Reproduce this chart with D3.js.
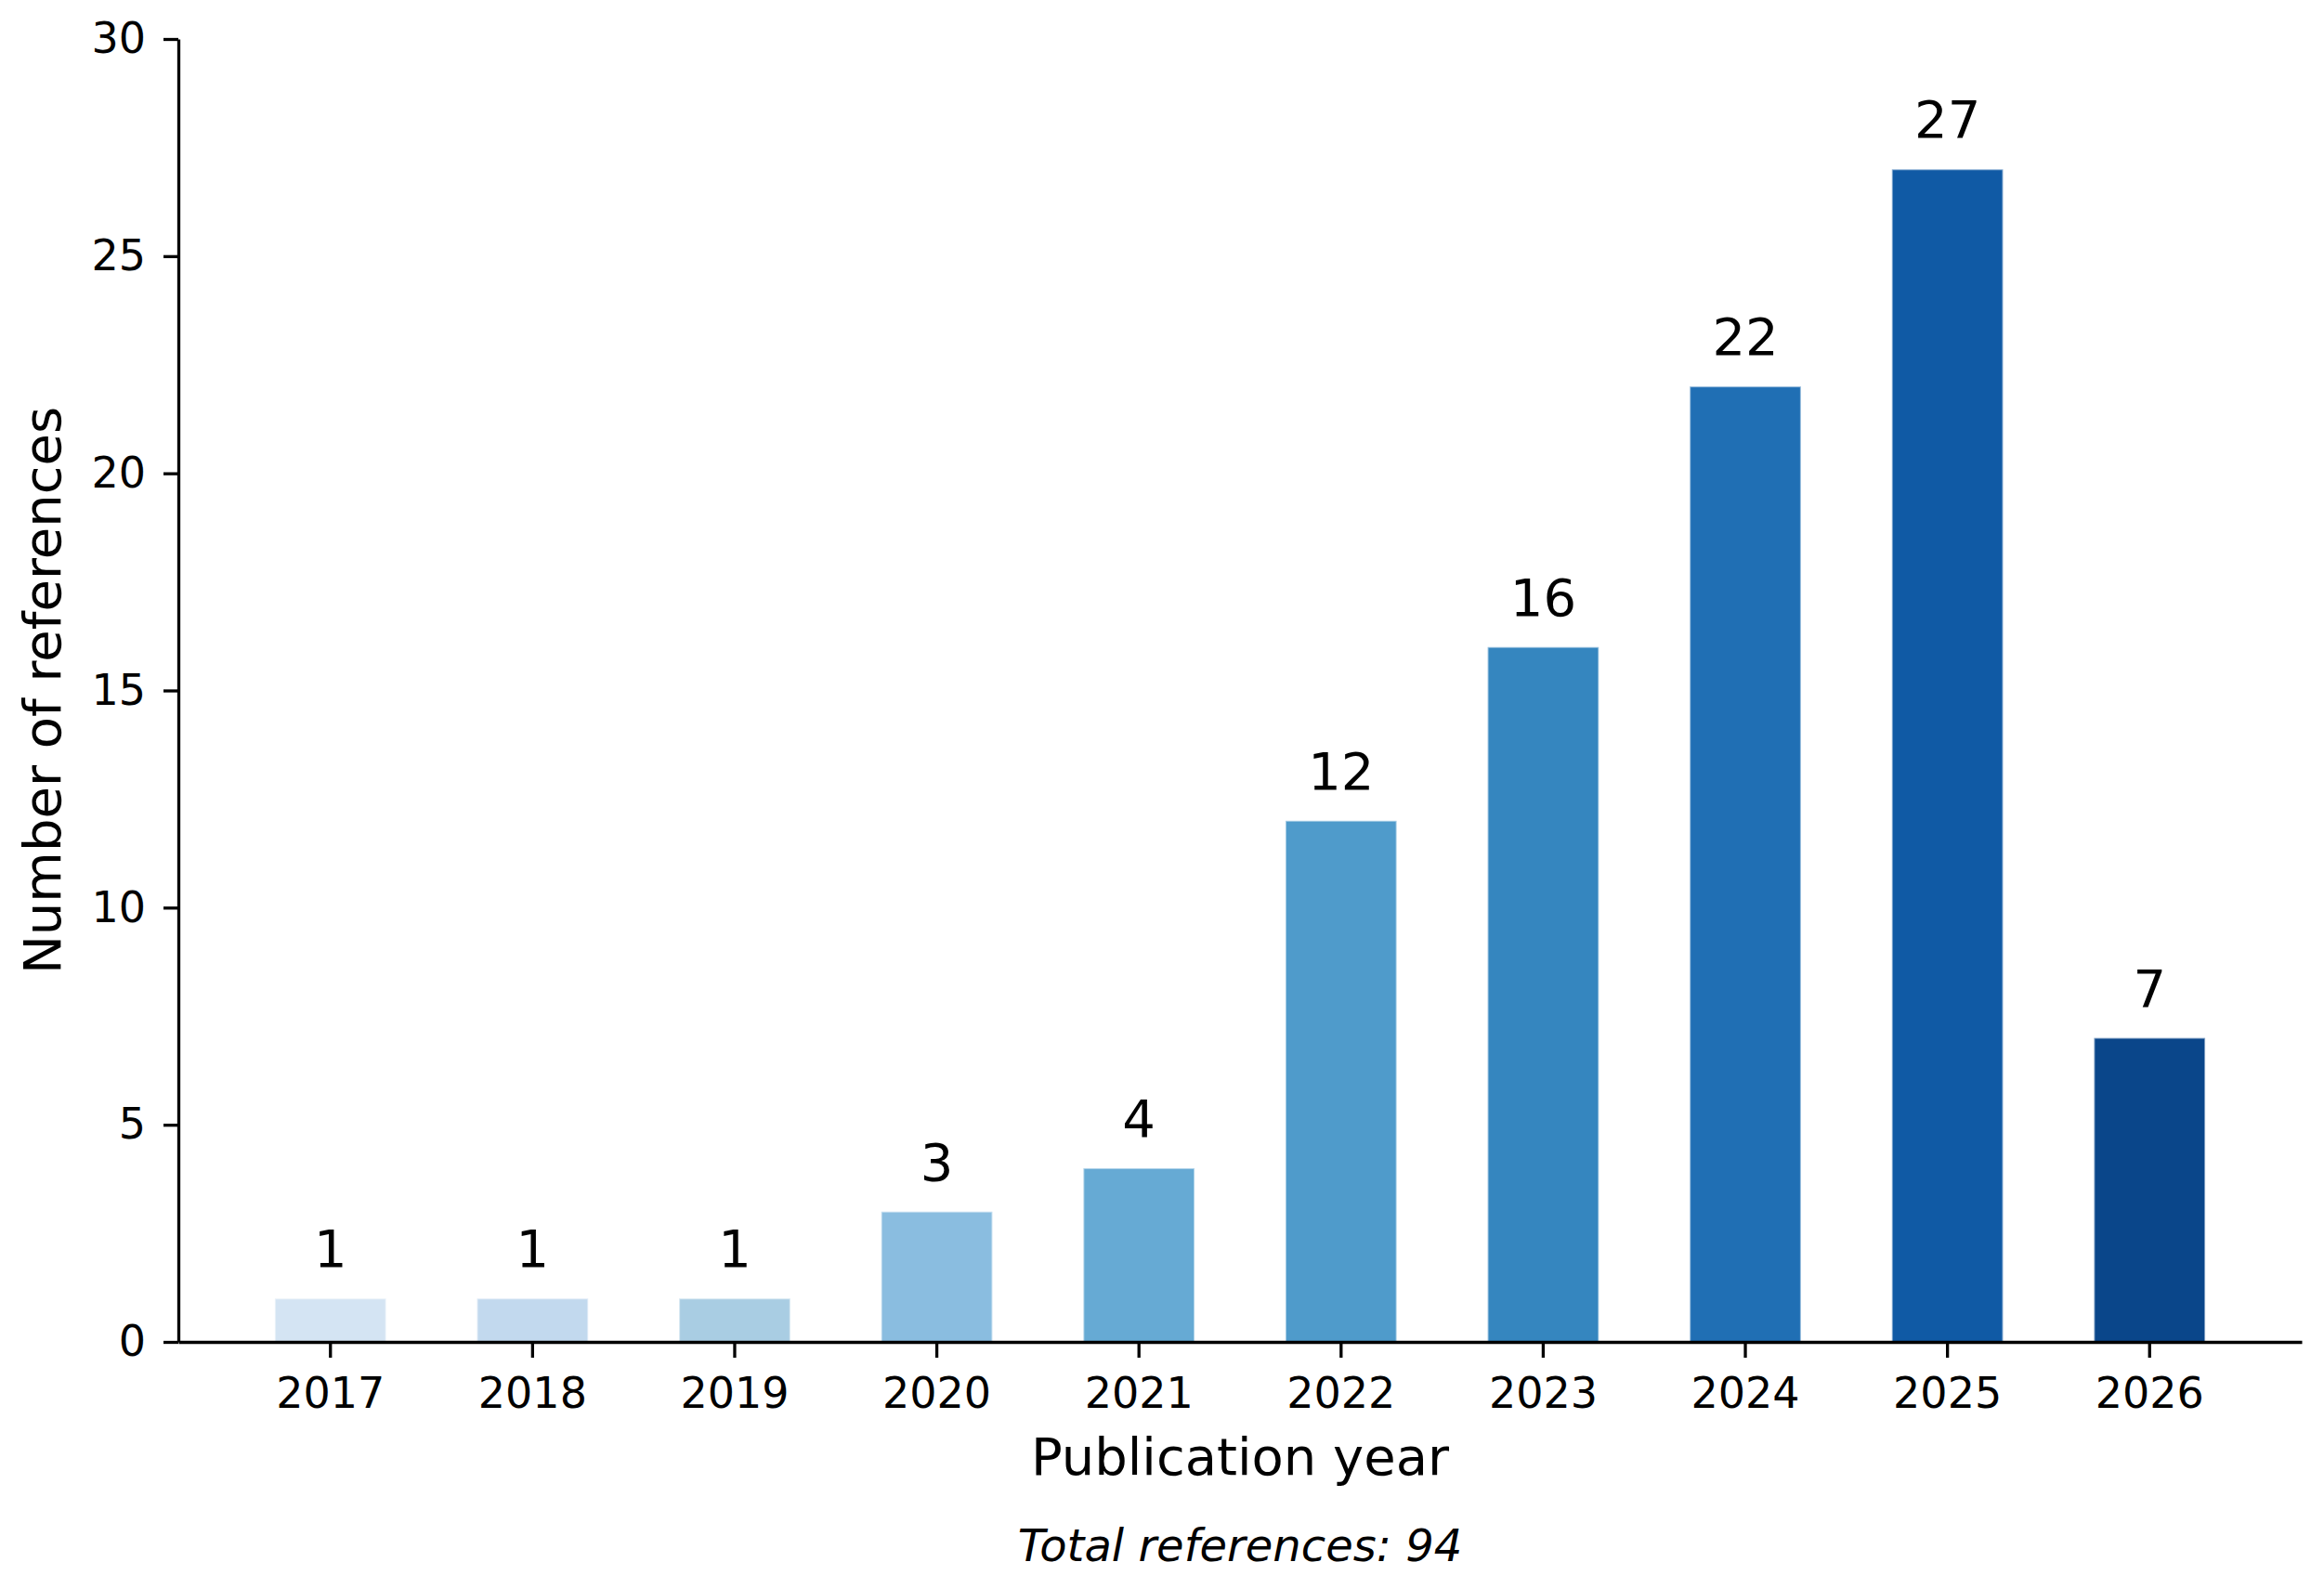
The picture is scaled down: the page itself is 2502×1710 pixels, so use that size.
<!DOCTYPE html>
<html>
<head>
<meta charset="utf-8">
<script src="https://cdn.jsdelivr.net/npm/d3@7"></script>
<style>
  html, body { margin: 0; padding: 0; background: #fff; }
  svg { display: block; font-family: "DejaVu Sans", sans-serif; }
</style>
</head>
<body>
<div id="chart"></div>
<script>
// data
const years = ["2017", "2018", "2019", "2020", "2021", "2022", "2023", "2024", "2025", "2026"];
const counts = [1, 1, 1, 3, 4, 12, 16, 22, 27, 7];
const barColors = ["#d4e4f3", "#c2d9ee", "#a9cde3", "#8abde0", "#66aad4",
    "#4f9bcb", "#3586bf", "#206fb4", "#105aa5", "#0a468a"];
const yTicks = [0, 5, 10, 15, 20, 25, 30];

const width = 2502, height = 1710;
const plot = { left: 192, right: 2478, top: 42, bottom: 1445 };

const svg = d3.select("#chart")
    .append("svg")
    .attr("width", width)
    .attr("height", height);

const x = d3.scaleBand()
    .domain(years)
    .range([plot.left, plot.right])
    .paddingInner(0.45)
    .paddingOuter(0.4775);

const y = d3.scaleLinear()
    .domain([0, 30])
    .range([plot.bottom, plot.top]);

// bars
svg.append("g")
    .selectAll("rect")
    .data(years)
    .join("rect")
    .attr("x", d => x(d))
    .attr("width", x.bandwidth())
    .attr("y", (d, i) => y(counts[i]))
    .attr("height", (d, i) => y(0) - y(counts[i]))
    .attr("fill", (d, i) => barColors[i])
    .attr("stroke", "white")
    .attr("stroke-opacity", 0.5)
    .attr("stroke-width", 2);

// value labels
svg.append("g")
    .selectAll("text")
    .data(years)
    .join("text")
    .attr("x", d => x(d) + x.bandwidth() / 2)
    .attr("y", (d, i) => y(counts[i]) - 34)
    .attr("text-anchor", "middle")
    .style("font-size", "56px")
    .attr("fill", "#000")
    .text((d, i) => counts[i]);

// axes
const xAxis = svg.append("g")
    .attr("transform", "translate(0," + plot.bottom + ")")
    .call(d3.axisBottom(x).tickSize(17).tickSizeOuter(0).tickPadding(21));

const yAxis = svg.append("g")
    .attr("transform", "translate(" + plot.left + ",0)")
    .call(d3.axisLeft(y).tickValues(yTicks).tickSize(16).tickSizeOuter(0).tickPadding(19));

[xAxis, yAxis].forEach(function(g) {
    g.attr("font-family", null).attr("font-size", null);
    g.select(".domain").attr("stroke", "#000").attr("stroke-width", 3.3);
    g.selectAll(".tick line").attr("stroke", "#000").attr("stroke-width", 3.3);
    g.selectAll(".tick text").style("font-size", "46px").attr("fill", "#000");
});

// axis titles
svg.append("text")
    .attr("x", (plot.left + plot.right) / 2)
    .attr("y", 1588)
    .attr("text-anchor", "middle")
    .style("font-size", "56px")
    .text("Publication year");

svg.append("text")
    .attr("transform", "translate(65," + (plot.top + plot.bottom) / 2 + ") rotate(-90)")
    .attr("text-anchor", "middle")
    .style("font-size", "56px")
    .text("Number of references");

// footnote
svg.append("text")
    .attr("x", (plot.left + plot.right) / 2)
    .attr("y", 1681)
    .attr("text-anchor", "middle")
    .style("font-size", "48px")
    .style("font-style", "italic")
    .text("Total references: " + d3.sum(counts));
</script>
</body>
</html>
